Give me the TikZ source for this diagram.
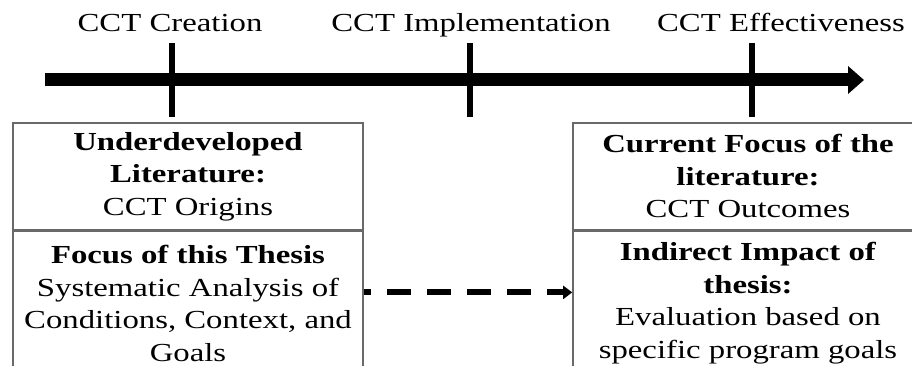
\documentclass[tikz,border=0pt]{standalone}
\usepackage{fontspec}
\setmainfont{Liberation Serif}[FakeStretch=1.26]
\usetikzlibrary{arrows.meta, positioning, calc}
\definecolor{boxgray}{RGB}{105,105,105}

\begin{document}
\begin{tikzpicture}[x=1pt, y=-1pt,
  every node/.style={font=\fontsize{26}{32.5}\selectfont},
  cellbox/.style={draw=boxgray, line width=1.6pt, minimum width=350pt, align=center, inner sep=0pt},
  tickmark/.style={line width=6pt}]
  \useasboundingbox (0,0) rectangle (912,366);
  \clip (0,0) rectangle (912,366);
  % timeline
  \coordinate (tstart) at (45,80);
  \coordinate (tend) at (864,80);
  \draw[line width=13pt, -{Triangle[length=16pt, width=27pt]}] (tstart) -- (tend);
  \foreach \x/\name in {172/cre, 470/imp, 752/eff}
    \draw[tickmark] (\x,43) coordinate (\name top) -- (\x,117) coordinate (\name bot);
  \node[anchor=base] (lblCre) at (170,32) {CCT Creation};
  \node[anchor=base] (lblImp) at (471,32) {CCT Implementation};
  \node[anchor=base] (lblEff) at (781,32) {CCT Effectiveness};
  % left column
  \node[cellbox, minimum height=107pt, anchor=north] (origins) at (188,122)
    {\textbf{Underdeveloped}\\ \textbf{Literature:}\\ CCT Origins};
  \node[cellbox, minimum height=144pt, below=0pt of origins] (thesis)
    {\textbf{Focus of this Thesis}\\ Systematic Analysis of\\ Conditions, Context, and\\ Goals};
  % right column
  \node[cellbox, minimum height=107pt, anchor=north] (outcomes) at (748,122)
    {\textbf{Current Focus of the}\\ \textbf{literature:}\\ CCT Outcomes};
  \node[cellbox, minimum height=144pt, below=0pt of outcomes] (impact)
    {\textbf{Indirect Impact of}\\ \textbf{thesis:}\\ Evaluation based on\\ specific program goals};
  % dashed link
  \draw[line width=6pt, dash pattern=on 24pt off 16pt, dash phase=17pt,
        -{Triangle[length=9pt, width=13pt]}]
    ([yshift=11pt]thesis.east) -- ([yshift=11pt]impact.west);
\end{tikzpicture}
\end{document}
